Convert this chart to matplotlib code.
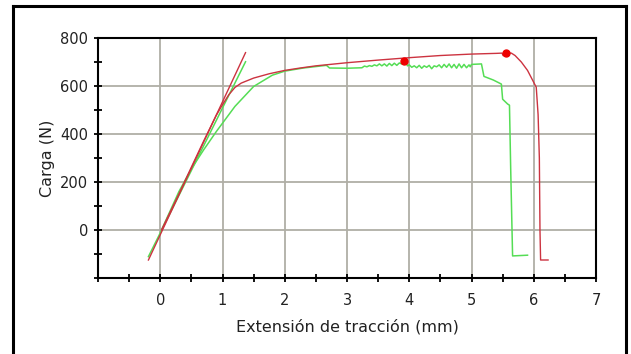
import matplotlib
matplotlib.use("Agg")
import matplotlib.pyplot as plt
from matplotlib.lines import Line2D

# Red specimen curve
red_x = [0.02, 0.3, 0.5, 0.7, 0.9, 1.0, 1.1, 1.2, 1.3, 1.5, 1.75, 2.0, 2.25, 2.5, 3.0, 3.5, 4.0,
         4.5, 5.0, 5.4, 5.49, 5.51, 5.54, 5.64, 5.7, 5.8, 5.9, 5.95, 6.0, 6.04, 6.07, 6.09, 6.1,
         6.11, 6.23]
red_y = [0, 150, 262, 372, 478, 522, 563, 594, 612, 633, 651, 665, 675, 684, 697, 708, 718,
         727, 733, 736, 737, 726, 738, 737, 727, 700, 665, 640, 615, 595, 480, 300, 0,
         -125, -125]

# Green specimen curve
green_x = [0.02, 0.3, 0.5, 0.7, 0.9, 1.0, 1.2, 1.5, 1.8, 2.0, 2.3, 2.6, 2.67, 2.72, 3.0, 3.24,
           3.28, 3.32, 3.36, 3.40, 3.44, 3.48, 3.52, 3.56, 3.60, 3.64, 3.68, 3.72, 3.76, 3.80,
           3.84, 3.88, 3.92, 3.95, 3.97, 4.0, 4.04, 4.08, 4.12, 4.16, 4.20, 4.24, 4.28, 4.32,
           4.36, 4.40, 4.44, 4.48, 4.52, 4.56, 4.60, 4.64, 4.68, 4.72, 4.76, 4.80, 4.84, 4.88,
           4.92, 4.96, 4.98, 5.0, 5.16, 5.2, 5.35, 5.48, 5.5, 5.58, 5.61, 5.63, 5.66, 5.90]
green_y = [0, 160, 255, 335, 410, 445, 515, 598, 645, 662, 675, 684, 686, 675, 674, 676,
           683, 680, 685, 682, 688, 684, 692, 684, 692, 683, 694, 685, 695, 686,
           696, 692, 700, 700, 684, 688, 678, 684, 676, 686, 674, 684, 678, 686,
           672, 684, 680, 688, 676, 690, 678, 692, 676, 690, 674, 692, 676, 690,
           676, 688, 680, 690, 692, 640, 625, 608, 545, 525, 520, 250, -108, -105]

# Elastic fit lines
red_fit_x = [-0.19, 1.37]
red_fit_y = [-125, 739]
green_fit_x = [-0.19, 1.37]
green_fit_y = [-111, 701]

# Marked points (maximum loads)
peak_x = [3.92, 5.55]
peak_y = [703, 738]

x_major = [0, 1, 2, 3, 4, 5, 6, 7]
x_minor = [-1, -0.5, 0.5, 1.5, 2.5, 3.5, 4.5, 5.5, 6.5]
y_major = [0, 200, 400, 600, 800]
y_minor = [-200, -100, 100, 300, 500, 700]

RED = "#cc3340"
GREEN = "#55dd55"
GRID = "#b0afa6"

fig = plt.figure(figsize=(6.31, 3.54), dpi=100)
W, H = 631, 354
ax = fig.add_axes([98 / W, 1 - 278 / H, (596 - 98) / W, (278 - 38) / H])

ax.set_xlim(-1, 7)
ax.set_ylim(-200, 800)

ax.set_xticks(x_major)
ax.set_xticks(x_minor, minor=True)
ax.set_yticks(y_major)
ax.set_yticks(y_minor, minor=True)
ax.grid(True, which="major", color=GRID, linewidth=1.3)
ax.set_axisbelow(True)

ax.tick_params(which="both", direction="inout", length=6, width=1.3, color="black",
               labelsize=10.5, labelcolor="#222222")
ax.tick_params(axis="x", which="major", pad=8)
ax.tick_params(axis="y", which="major", pad=4)
for s in ax.spines.values():
    s.set_linewidth(1.5)
    s.set_color("black")

ax.plot(green_fit_x, green_fit_y, color=GREEN, linewidth=1.1, zorder=3)
ax.plot(red_fit_x, red_fit_y, color=RED, linewidth=1.0, zorder=4)
ax.plot(green_x, green_y, color=GREEN, linewidth=1.1, zorder=3)
ax.plot(red_x, red_y, color=RED, linewidth=1.0, zorder=4)
ax.plot(peak_x, peak_y, "o", color="#ee0000", markersize=5, zorder=5)

ax.set_xlabel("Extensión de tracción (mm)", fontsize=11.5, color="#222222", labelpad=8)
ax.set_ylabel("Carga (N)", fontsize=11.5, color="#222222", labelpad=4)

# outer frame
lw = 2.2
fig.add_artist(Line2D([13 / W, 13 / W], [-0.05, 1 - 6 / H], transform=fig.transFigure,
                      color="black", linewidth=lw))
fig.add_artist(Line2D([13 / W, 626 / W], [1 - 6 / H, 1 - 6 / H], transform=fig.transFigure,
                      color="black", linewidth=lw))
fig.add_artist(Line2D([626 / W, 626 / W], [-0.05, 1 - 6 / H], transform=fig.transFigure,
                      color="black", linewidth=lw))

fig.savefig("out.png", dpi=100)
